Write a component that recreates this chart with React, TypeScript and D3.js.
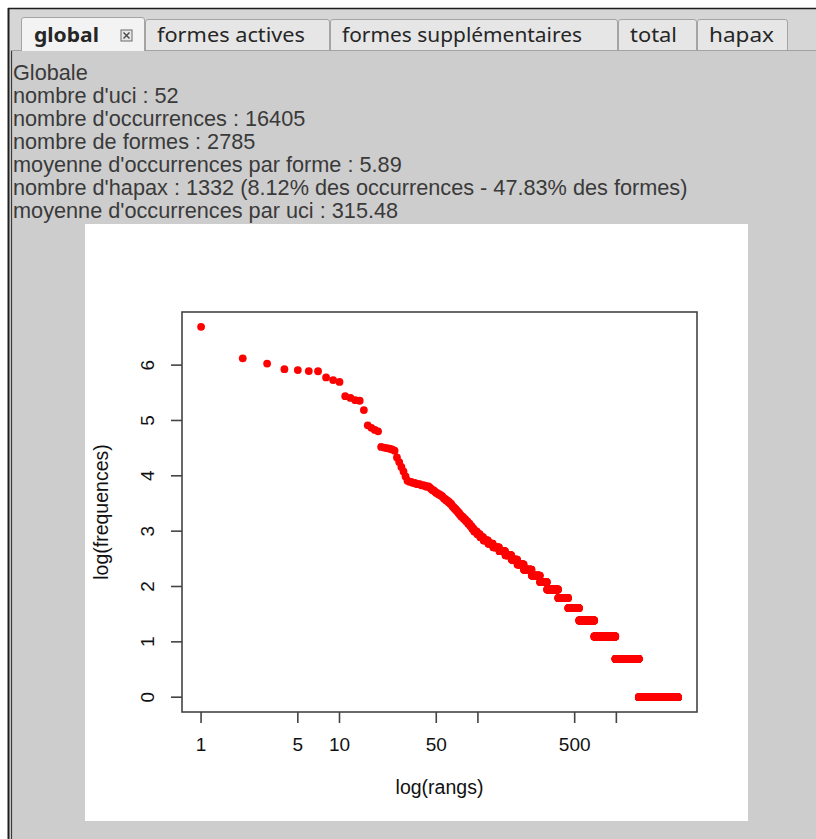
import React from 'react';
import * as d3 from 'd3';

// ---- data ----
// individual frequencies for the highest ranks (rank 1..93)
const topRankFreqs = [
  806, 456, 415, 375, 369, 362, 361, 323, 308, 298,
  230, 223, 214, 212, 179, 136, 130, 125, 122,
  92, 91, 90, 89, 88, 86, 76, 70, 64, 59, 54, 50,
  49, 49, 48, 48, 47, 47, 47, 46, 46, 46, 45, 45, 45, 44,
  43, 42, 42, 41, 40,
  40, 39, 39, 38, 38, 37, 36, 36, 35,
  35, 34, 34, 33, 33, 32, 31,
  31, 30, 30, 29, 29, 28, 28, 27,
  27, 26, 26, 26, 25, 25, 25, 24, 24,
  24, 23, 23, 23, 22, 22, 22, 21, 21, 21,
];
// frequency spectrum for the low frequencies: frequency -> number of forms
const spectrumFreqs = [20, 19, 18, 17, 16, 15, 14, 13, 12, 11, 10, 9, 8, 7, 6, 5, 4, 3, 2, 1];
const spectrumCounts = [5, 5, 6, 9, 10, 14, 15, 17, 18, 22, 30, 36, 35, 64, 69, 90, 154, 291, 470, 1332];

const xTickValues = [1, 5, 10, 50, 100, 500, 1000];
const xTickLabels = ['1', '5', '10', '50', '', '500', ''];
const yTickValues = [0, 1, 2, 3, 4, 5, 6];

const tabLabels = ['global', 'formes actives', 'formes supplémentaires', 'total', 'hapax'];
const infoLines = [
  'Globale',
  "nombre d'uci : 52",
  "nombre d'occurrences : 16405",
  'nombre de formes : 2785',
  "moyenne d'occurrences par forme : 5.89",
  "nombre d'hapax : 1332 (8.12% des occurrences - 47.83% des formes)",
  "moyenne d'occurrences par uci : 315.48",
];

// ---- layout ----
const W = 816;
const H = 839;
const tabEdges = [21, 145, 330, 618, 697, 788];
const tabTextWidths = [65, 148, 240, 47, 65];
const box = { left: 182, right: 697, top: 312, bottom: 712 };
const rFont = '"Liberation Sans", Arial, Helvetica, sans-serif';

function buildPoints() {
  const pts: { rank: number; freq: number }[] = [];
  topRankFreqs.forEach((f, i) => pts.push({ rank: i + 1, freq: f }));
  let r = topRankFreqs.length;
  spectrumFreqs.forEach((f, i) => {
    for (let k = 0; k < spectrumCounts[i]; k++) {
      r += 1;
      pts.push({ rank: r, freq: f });
    }
  });
  return pts;
}

export default function App() {
  const pts = buildPoints();
  const maxRank = d3.max(pts, (d) => d.rank) as number;
  const maxLog = Math.log(d3.max(pts, (d) => d.freq) as number);
  const lx = Math.log10(maxRank);
  const ex = 0.04 * lx;
  const ey = 0.04 * maxLog;
  const x = d3
    .scaleLog()
    .domain([Math.pow(10, -ex), Math.pow(10, lx + ex)])
    .range([box.left, box.right]);
  const y = d3.scaleLinear().domain([-ey, maxLog + ey]).range([box.bottom, box.top]);

  const tick = 11;

  return (
    <svg
      width={W}
      height={H}
      viewBox={`0 0 ${W} ${H}`}
      style={{ position: 'absolute', left: 0, top: 0, display: 'block' }}
    >
      <rect x={0} y={0} width={W} height={H} fill="#ffffff" />
      {/* window content background */}
      <rect x={9} y={9} width={W - 9} height={H - 9} fill="#d6d6d6" />
      <rect x={11} y={50} width={W - 11} height={H - 50} fill="#cdcdcd" />
      {/* window border */}
      <line x1={8} y1={8.5} x2={W} y2={8.5} stroke="#1e1e1e" strokeWidth={1.5} />
      <line x1={8.5} y1={8} x2={8.5} y2={H} stroke="#1e1e1e" strokeWidth={2} />
      <line x1={11.5} y1={50} x2={11.5} y2={H} stroke="#3a3a3a" strokeWidth={1.2} />
      {/* tab strip bottom line */}
      <line x1={11} y1={50.5} x2={W} y2={50.5} stroke="#a2a2a2" strokeWidth={1} />

      {/* tabs */}
      {tabLabels.map((label, i) => {
        const x0 = tabEdges[i];
        const x1 = tabEdges[i + 1];
        const sel = i === 0;
        const top = sel ? 17 : 19;
        const bottom = sel ? 51 : 50;
        const rr = 3;
        const d = `M${x0 + 0.5},${bottom} L${x0 + 0.5},${top + rr} Q${x0 + 0.5},${top + 0.5} ${x0 + rr},${top + 0.5} L${x1 - rr},${top + 0.5} Q${x1 - 0.5},${top + 0.5} ${x1 - 0.5},${top + rr} L${x1 - 0.5},${bottom}`;
        const tx = sel ? 34 : x0 + 12;
        return (
          <g key={label}>
            <path d={d + ' Z'} fill={sel ? '#f3f3f3' : '#e6e6e6'} stroke="none" />
            <path d={d} fill="none" stroke="#a4a4a4" strokeWidth={1} />
            <text
              x={tx}
              y={42}
              fontFamily='"Noto Sans", "Open Sans", sans-serif'
              fontSize={19}
              fontWeight={sel ? 700 : 400}
              fill="#262626"
              textLength={tabTextWidths[i]}
              lengthAdjust="spacingAndGlyphs"
            >
              {label}
            </text>
          </g>
        );
      })}
      {/* close icon on the selected tab */}
      <g>
        <rect x={121} y={30} width={11} height={11} fill="#e8e8e8" stroke="#6a6a6a" strokeWidth={1} />
        <line x1={123.5} y1={32.5} x2={129.5} y2={38.5} stroke="#4a4a4a" strokeWidth={1.4} />
        <line x1={129.5} y1={32.5} x2={123.5} y2={38.5} stroke="#4a4a4a" strokeWidth={1.4} />
      </g>

      {/* info text */}
      {infoLines.map((t, i) => (
        <text
          key={i}
          x={13}
          y={80 + i * 23}
          fontFamily={rFont}
          fontSize={21.7}
          fill="#3a3a3a"
        >
          {t}
        </text>
      ))}

      {/* plot panel */}
      <rect x={85} y={224} width={663} height={597} fill="#ffffff" />

      {/* points */}
      <g fill="#ff0000">
        {pts.map((p, i) => (
          <circle key={i} cx={x(p.rank)} cy={y(Math.log(p.freq))} r={3.9} />
        ))}
      </g>

      {/* box */}
      <rect
        x={box.left}
        y={box.top}
        width={box.right - box.left}
        height={box.bottom - box.top}
        fill="none"
        stroke="#444444"
        strokeWidth={1.6}
      />

      {/* x axis */}
      <g stroke="#444444" strokeWidth={1.6}>
        {xTickValues.map((v) => (
          <line key={v} x1={x(v)} x2={x(v)} y1={box.bottom} y2={box.bottom + tick} />
        ))}
      </g>
      {xTickValues.map((v, i) => (
        <text
          key={'xl' + v}
          x={x(v)}
          y={751}
          textAnchor="middle"
          fontFamily={rFont}
          fontSize={19}
          fill="#111"
        >
          {xTickLabels[i]}
        </text>
      ))}
      <text
        x={(box.left + box.right) / 2}
        y={794}
        textAnchor="middle"
        fontFamily={rFont}
        fontSize={19.5}
        fill="#111"
      >
        log(rangs)
      </text>

      {/* y axis */}
      <g stroke="#444444" strokeWidth={1.6}>
        {yTickValues.map((v) => (
          <line key={v} x1={box.left - tick} x2={box.left} y1={y(v)} y2={y(v)} />
        ))}
      </g>
      {yTickValues.map((v) => (
        <text
          key={'yl' + v}
          transform={`translate(154, ${y(v)}) rotate(-90)`}
          textAnchor="middle"
          fontFamily={rFont}
          fontSize={19}
          fill="#111"
        >
          {String(v)}
        </text>
      ))}
      <text
        transform={`translate(108, ${(box.top + box.bottom) / 2}) rotate(-90)`}
        textAnchor="middle"
        fontFamily={rFont}
        fontSize={19.5}
        fill="#111"
      >
        log(frequences)
      </text>
    </svg>
  );
}
